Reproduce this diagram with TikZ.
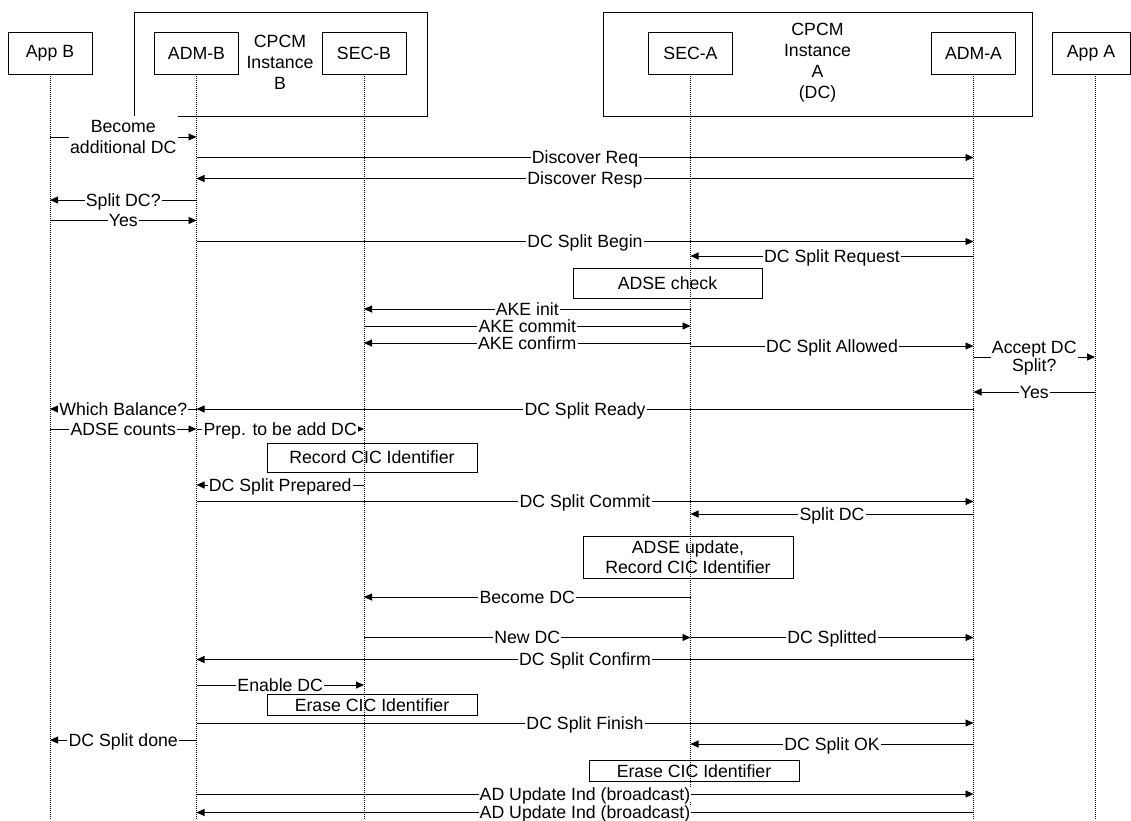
\documentclass[tikz,border=0pt]{standalone}
\usepackage{fontspec}
\setmainfont{Liberation Sans}
\usetikzlibrary{arrows.meta}
\tikzset{
  x=1pt, y=-1pt,
  every node/.style={font=\fontsize{17.7}{21}\selectfont},
  hbox/.style={draw, line width=0.9pt, minimum width=84pt, minimum height=42pt, inner sep=0pt},
  grp/.style={draw, line width=0.9pt, inner sep=0pt},
  grptext/.style={align=center, inner sep=0pt},
  life/.style={line width=0.7pt, dash pattern=on 1pt off 1pt},
  msg/.style={line width=0.9pt, -{Triangle[length=8pt,width=7pt]}},
  lbl/.style={fill=white, inner xsep=1.2pt, inner ysep=0.8pt, text height=12.7pt, text depth=0pt},
  lbltwo/.style={fill=white, inner xsep=1.2pt, inner ysep=0.5pt, align=center},
  note/.style={draw, line width=0.9pt, inner sep=0pt, align=center},
}
\newcommand\seqmsg[4]{\draw[msg] (#1 |- 0,#3) -- node[lbl]{#4} (#2 |- 0,#3);}
\begin{document}
\begin{tikzpicture}
\useasboundingbox (0,0) rectangle (1131,820);
% group boxes
\node[grp, minimum width=293pt, minimum height=104pt] (cpcmB) at (280.5,64) {};
\node[grptext] (cpcmBt) at (280,62) {CPCM\\Instance\\B};
\node[grp, minimum width=429pt, minimum height=104pt] (cpcmA) at (817.5,64) {};
\node[grptext] (cpcmAt) at (817.5,63) {CPCM\\Instance\\A\\(DC)};
% header boxes
\node[hbox] (appB) at (50,53) {App B};
\node[hbox] (admB) at (196.5,53) {ADM-B};
\node[hbox] (secB) at (364,53) {SEC-B};
\node[hbox] (secA) at (690.5,53) {SEC-A};
\node[hbox] (admA) at (973.5,53) {ADM-A};
\node[hbox, minimum width=78pt] (appA) at (1091,53) {App A};
\coordinate (lA) at ([xshift=4pt]appA.south);
% lifelines
\foreach \n in {appB,admB,secB,secA,admA}{
  \draw[life] (\n.south) -- (\n.south |- 0,820);
}
\draw[life] (lA) -- (lA |- 0,820);
% messages
\draw[msg] (appB |- 0,137) -- node[lbltwo, inner ysep=4.5pt]{Become\\additional DC} (admB |- 0,137);
\seqmsg{admB}{admA}{157.5}{Discover Req}
\seqmsg{admA}{admB}{178.5}{Discover Resp}
\seqmsg{admB}{appB}{200}{Split DC?}
\seqmsg{appB}{admB}{220.5}{Yes}
\seqmsg{admB}{admA}{241.5}{DC Split Begin}
\seqmsg{admA}{secA}{256}{DC Split Request}
\node[note, minimum width=189pt, minimum height=30pt] (adsecheck) at (667.5,283) {ADSE check};
\seqmsg{secA}{secB}{309}{AKE init}
\seqmsg{secB}{secA}{326}{AKE commit}
\seqmsg{secA}{secB}{343}{AKE confirm}
\seqmsg{secA}{admA}{346}{DC Split Allowed}
\draw[msg] (admA |- 0,357) -- node[lbltwo, font=\fontsize{17.7}{17.5}\selectfont, yshift=-1pt]{Accept DC\\Split?} (lA |- 0,357);
\seqmsg{lA}{admA}{392}{Yes}
\seqmsg{admA}{admB}{409}{DC Split Ready}
\seqmsg{admB}{appB}{409}{Which Balance?}
\seqmsg{appB}{admB}{429}{ADSE counts}
\seqmsg{admB}{secB}{429}{Prep. to be add DC}
\node[note, minimum width=210pt, minimum height=29pt] (reccic) at (372,457.5) {Record CIC Identifier};
\seqmsg{secB}{admB}{485}{DC Split Prepared}
\seqmsg{admB}{admA}{501.5}{DC Split Commit}
\seqmsg{admA}{secA}{514}{Split DC}
\node[note, minimum width=210pt, minimum height=42pt, font=\fontsize{17.7}{20}\selectfont] (adseupd) at (688,557) {ADSE update,\\Record CIC Identifier};
\seqmsg{secA}{secB}{597}{Become DC}
\seqmsg{secB}{secA}{637.5}{New DC}
\seqmsg{secA}{admA}{637.5}{DC Splitted}
\seqmsg{admA}{admB}{659.5}{DC Split Confirm}
\seqmsg{admB}{secB}{685}{Enable DC}
\node[note, minimum width=210pt, minimum height=21pt] (erase1) at (372,705) {Erase CIC Identifier};
\seqmsg{admB}{admA}{723}{DC Split Finish}
\seqmsg{admB}{appB}{740}{DC Split done}
\seqmsg{admA}{secA}{744}{DC Split OK}
\node[note, minimum width=210pt, minimum height=21pt] (erase2) at (694,771) {Erase CIC Identifier};
\seqmsg{admB}{admA}{794}{AD Update Ind (broadcast)}
\seqmsg{admA}{admB}{812.5}{AD Update Ind (broadcast)}
\end{tikzpicture}
\end{document}
